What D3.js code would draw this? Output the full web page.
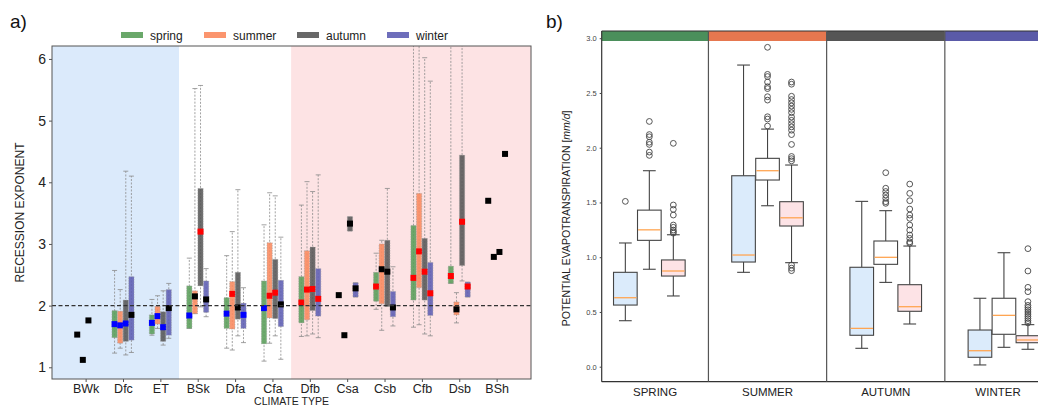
<!DOCTYPE html>
<html>
<head>
<meta charset="utf-8">
<script src="https://cdn.jsdelivr.net/npm/d3@7"></script>
<style>
  body { margin: 0; background: #fff; }
  svg { font-family: "Liberation Sans", Arial, sans-serif; }
</style>
</head>
<body>
<svg id="chart" width="1038" height="407"></svg>
<script>
// ---- panel a data: recession exponent per climate type and season ----
const climateTypes = ["BWk", "Dfc", "ET", "BSk", "Dfa", "Cfa", "Dfb", "Csa", "Csb", "Cfb", "Dsb", "BSh"];
const seasons = ["spring", "summer", "autumn", "winter"];
const yTicksA = [1, 2, 3, 4, 5, 6];
// each row: [whiskerLow, q1, q3, whiskerHigh, marker, markerColour]  (null = single value only)
const springRec = [
  [null, null, null, null, 1.53, "k"],
  [1.23, 1.48, 1.92, 2.57, 1.70, "b"],
  [1.52, 1.54, 1.85, 2.10, 1.72, "b"],
  [1.63, 1.63, 2.32, 2.77, 1.84, "b"],
  [1.31, 1.63, 2.13, 2.81, 1.87, "b"],
  [1.10, 1.38, 2.40, 3.31, 1.96, "b"],
  [1.50, 1.72, 2.47, 3.63, 2.05, "r"],
  [null, null, null, null, 2.17, "k"],
  [1.94, 2.07, 2.54, 2.85, 2.31, "r"],
  [1.65, 2.09, 3.30, 8.00, 2.45, "r"],
  [2.36, 2.36, 2.64, 8.00, 2.48, "r"],
  [null, null, null, null, 3.70, "k"]
];
const summerRec = [
  [null, null, null, null, 1.12, "k"],
  [1.31, 1.39, 1.91, 2.26, 1.68, "b"],
  [1.63, 1.70, 1.99, 2.16, 1.83, "b"],
  [1.87, 1.87, 2.24, 5.52, 2.15, "k"],
  [1.28, 1.62, 2.39, 3.20, 2.19, "r"],
  [1.39, 1.80, 3.02, 3.83, 2.16, "r"],
  [1.51, 1.77, 2.89, 4.01, 2.26, "r"],
  [null, null, null, null, 1.52, "k"],
  [1.60, 2.03, 3.00, 3.06, 2.59, "k"],
  [1.69, 2.29, 3.82, 8.00, 2.88, "r"],
  [1.72, 1.85, 2.06, 2.21, 1.94, "k"],
  [null, null, null, null, 2.79, "k"]
];
const autumnRec = [
  [null, null, null, null, 1.76, "k"],
  [1.20, 1.42, 2.09, 4.18, 1.71, "b"],
  [1.36, 1.42, 1.90, 2.24, 1.65, "b"],
  [1.98, 2.32, 3.90, 5.57, 3.20, "r"],
  [1.51, 1.78, 2.54, 3.88, 1.97, "k"],
  [1.51, 1.79, 2.75, 3.78, 2.21, "r"],
  [1.54, 1.92, 2.95, 3.85, 2.27, "r"],
  [3.21, 3.21, 3.44, 3.44, 3.33, "k"],
  [1.99, 1.99, 3.06, 3.90, 2.55, "k"],
  [1.54, 2.09, 3.09, 6.02, 2.55, "r"],
  [2.40, 2.65, 4.44, 8.00, 3.36, "r"],
  [null, null, null, null, 2.87, "k"]
];
const winterRec = [
  null,
  [1.24, 1.44, 2.47, 4.10, 1.85, "k"],
  [1.47, 1.52, 2.26, 2.36, 1.96, "k"],
  [1.82, 1.89, 2.40, 2.60, 2.10, "k"],
  [1.40, 1.63, 2.04, 2.29, 1.85, "b"],
  [1.13, 1.66, 2.41, 3.11, 2.02, "k"],
  [1.48, 1.83, 2.60, 4.12, 2.11, "r"],
  [2.14, 2.14, 2.37, 2.37, 2.28, "k"],
  [1.67, 1.82, 2.23, 2.63, 1.97, "k"],
  [1.51, 1.84, 2.70, 5.64, 2.20, "r"],
  [2.14, 2.14, 2.38, 2.38, 2.31, "r"],
  [null, null, null, null, 4.46, "k"]
];
const referenceExponent = 2;

// ---- panel b data: potential evapotranspiration per season and climate zone ----
const petSeasons = ["SPRING", "SUMMER", "AUTUMN", "WINTER"];
const petZones = ["cold", "mid", "warm"];
const yTicksB = [0.0, 0.5, 1.0, 1.5, 2.0, 2.5, 3.0];
// each: [whiskerLow, q1, median, q3, whiskerHigh]
const petCold = [
  [0.42, 0.563, 0.63, 0.862, 1.13],
  [0.862, 0.956, 1.02, 1.744, 2.755],
  [0.168, 0.287, 0.35, 0.908, 1.51],
  [0.016, 0.086, 0.146, 0.335, 0.625]
];
const petMid = [
  [0.89, 1.154, 1.25, 1.43, 1.79],
  [1.47, 1.705, 1.79, 1.903, 2.17],
  [0.77, 0.935, 0.999, 1.148, 1.425],
  [0.177, 0.296, 0.469, 0.625, 1.041]
];
const petWarm = [
  [0.646, 0.828, 0.874, 0.975, 1.205],
  [0.95, 1.285, 1.36, 1.507, 1.842],
  [0.39, 0.506, 0.548, 0.749, 1.102],
  [0.159, 0.219, 0.244, 0.283, 0.384]
];
const petColdOut = [[1.51], [], [], []];
const petMidOut = [
  [1.93, 1.96, 2.03, 2.05, 2.10, 2.12, 2.24],
  [2.198, 2.262, 2.283, 2.435, 2.466, 2.54, 2.557, 2.60, 2.65, 2.67, 2.917],
  [1.492, 1.507, 1.538, 1.568, 1.60, 1.63, 1.772],
  []
];
const petWarmOut = [
  [1.22, 1.233, 1.248, 1.273, 1.294, 1.385, 1.437, 1.477, 2.04],
  [0.877, 0.90, 0.929, 1.88, 1.90, 1.92, 2.03, 2.12, 2.16, 2.19, 2.22, 2.25, 2.28, 2.32, 2.35, 2.38, 2.41, 2.44, 2.47, 2.58, 2.60],
  [1.127, 1.14, 1.172, 1.203, 1.248, 1.294, 1.355, 1.385, 1.44, 1.516, 1.583, 1.668],
  [0.40, 0.42, 0.44, 0.46, 0.48, 0.50, 0.52, 0.54, 0.56, 0.594, 0.685, 0.725, 0.874, 1.078]
];

const seasonColor = { spring: "#5a9e5a", summer: "#fb8a5e", autumn: "#585858", winter: "#5e5eb4" };
const stripColor = ["#4b8f5b", "#e6774f", "#555555", "#5a5aa8"];
const zoneFill = { cold: "#dbebfb", mid: "#ffffff", warm: "#fde3e6" };
const markColor = { k: "#000000", b: "#0000ff", r: "#ff0000" };

const svg = d3.select("#chart");

// ================= panel a =================
const A = { left: 52, right: 531, top: 46, bottom: 379 };
const xA = d3.scaleLinear().domain([-0.9, 11.92]).range([A.left, A.right]);
const yA = d3.scaleLinear().domain([0.81, 6.21]).range([A.bottom, A.top]);

svg.append("defs").append("clipPath").attr("id", "clipA")
  .append("rect").attr("x", A.left).attr("y", A.top)
  .attr("width", A.right - A.left).attr("height", A.bottom - A.top);

const gA = svg.append("g");
const plotA = gA.append("g").attr("clip-path", "url(#clipA)");

// climate zone shading
plotA.append("rect")
  .attr("x", xA(-0.9)).attr("y", A.top)
  .attr("width", xA(2.5) - xA(-0.9)).attr("height", A.bottom - A.top)
  .attr("fill", "#dbeafb");
plotA.append("rect")
  .attr("x", xA(5.5)).attr("y", A.top)
  .attr("width", xA(11.92) - xA(5.5)).attr("height", A.bottom - A.top)
  .attr("fill", "#fde3e4");

const offsets = [-0.225, -0.075, 0.075, 0.225];
const boxW = 0.14;
const seasonRows = [springRec, summerRec, autumnRec, winterRec];

seasons.forEach((s, si) => {
  const rows = seasonRows[si];
  const g = plotA.append("g").attr("class", "season-" + s);
  rows.forEach((r, ci) => {
    if (!r) return;
    const cx = xA(ci + offsets[si]);
    if (r[0] !== null) {
      // whisker
      g.append("line")
        .attr("x1", cx).attr("x2", cx)
        .attr("y1", yA(r[0])).attr("y2", yA(r[3]))
        .attr("stroke", "#8a8a8a").attr("stroke-width", 0.8)
        .attr("stroke-dasharray", "2,1.5");
      [r[0], r[3]].forEach(v => {
        g.append("line")
          .attr("x1", cx - 2.5).attr("x2", cx + 2.5)
          .attr("y1", yA(v)).attr("y2", yA(v))
          .attr("stroke", "#8a8a8a").attr("stroke-width", 0.8);
      });
      // box
      const bw = xA(boxW) - xA(0);
      g.append("rect")
        .attr("x", cx - bw / 2).attr("width", bw)
        .attr("y", yA(r[2])).attr("height", Math.max(1, yA(r[1]) - yA(r[2])))
        .attr("fill", seasonColor[s]).attr("fill-opacity", 0.88)
        .attr("stroke", "#9a9a9a").attr("stroke-width", 0.5)
        .attr("stroke-dasharray", "1.5,1");
    }
    g.append("rect")
      .attr("x", cx - 3).attr("y", yA(r[4]) - 3)
      .attr("width", 6).attr("height", 6)
      .attr("fill", markColor[r[5]]);
  });
});

// reference line
plotA.append("line")
  .attr("x1", A.left).attr("x2", A.right)
  .attr("y1", yA(referenceExponent)).attr("y2", yA(referenceExponent))
  .attr("stroke", "#333").attr("stroke-width", 1.2)
  .attr("stroke-dasharray", "4,2.5");

// frame
gA.append("rect")
  .attr("x", A.left).attr("y", A.top)
  .attr("width", A.right - A.left).attr("height", A.bottom - A.top)
  .attr("fill", "none").attr("stroke", "#555").attr("stroke-width", 1);

// axes
const yAxisA = gA.append("g")
  .attr("transform", `translate(${A.left},0)`)
  .call(d3.axisLeft(yA).tickValues(yTicksA).tickFormat(d3.format("d")).tickSize(3).tickPadding(3));
yAxisA.select(".domain").remove();
yAxisA.selectAll("text").attr("font-size", 14).attr("fill", "#222");
yAxisA.selectAll("line").attr("stroke", "#555");

const xAxisA = gA.append("g")
  .attr("transform", `translate(0,${A.bottom})`)
  .call(d3.axisBottom(xA).tickValues(d3.range(climateTypes.length))
    .tickFormat(i => climateTypes[i]).tickSize(3).tickPadding(2));
xAxisA.select(".domain").remove();
xAxisA.selectAll("text").attr("font-size", 12.5).attr("fill", "#222");
xAxisA.selectAll("line").attr("stroke", "#555");

gA.append("text")
  .attr("transform", `translate(24,${(A.top + A.bottom) / 2}) rotate(-90)`)
  .attr("text-anchor", "middle").attr("font-size", 12).attr("fill", "#222")
  .text("RECESSION EXPONENT");
gA.append("text")
  .attr("x", (A.left + A.right) / 2).attr("y", 405)
  .attr("text-anchor", "middle").attr("font-size", 10.5).attr("fill", "#222")
  .text("CLIMATE TYPE");
gA.append("text")
  .attr("x", 10).attr("y", 28)
  .attr("font-size", 19).attr("fill", "#111")
  .text("a)");

// legend
const legendX = [121, 204, 297, 387];
const legend = gA.append("g");
seasons.forEach((s, i) => {
  legend.append("rect")
    .attr("x", legendX[i]).attr("y", 32)
    .attr("width", 22).attr("height", 6)
    .attr("fill", seasonColor[s]).attr("fill-opacity", 0.9);
  legend.append("text")
    .attr("x", legendX[i] + 29).attr("y", 39.5)
    .attr("font-size", 12).attr("fill", "#222")
    .text(s);
});

// ================= panel b =================
const B = { left: 601.7, top: 31, bottom: 381.7 };
const xB = d3.scaleLinear().domain([-0.403, 3.5]).range([B.left, B.left + 3.903 * 118.2]);
const yB = d3.scaleLinear().domain([-0.137, 3.066]).range([B.bottom, B.top]);
const gB = svg.append("g");

const zoneOffset = [-0.203, 0, 0.203];
const zoneW = 0.2;
const zoneStats = [petCold, petMid, petWarm];
const zoneOut = [petColdOut, petMidOut, petWarmOut];
const sectionEdges = [-0.403, 0.5, 1.5, 2.5, 3.5];

// coloured season strips
petSeasons.forEach((s, k) => {
  gB.append("rect")
    .attr("x", xB(sectionEdges[k])).attr("y", B.top)
    .attr("width", xB(sectionEdges[k + 1]) - xB(sectionEdges[k])).attr("height", 10)
    .attr("fill", stripColor[k]);
});

petSeasons.forEach((s, k) => {
  petZones.forEach((z, zi) => {
    const st = zoneStats[zi][k];
    const cx = xB(k + zoneOffset[zi]);
    const bw = xB(zoneW) - xB(0);
    const g = gB.append("g");
    g.append("line").attr("x1", cx).attr("x2", cx)
      .attr("y1", yB(st[0])).attr("y2", yB(st[1]))
      .attr("stroke", "#444").attr("stroke-width", 1.1);
    g.append("line").attr("x1", cx).attr("x2", cx)
      .attr("y1", yB(st[3])).attr("y2", yB(st[4]))
      .attr("stroke", "#444").attr("stroke-width", 1.1);
    [st[0], st[4]].forEach(v => {
      g.append("line").attr("x1", cx - bw * 0.27).attr("x2", cx + bw * 0.27)
        .attr("y1", yB(v)).attr("y2", yB(v))
        .attr("stroke", "#444").attr("stroke-width", 1.1);
    });
    g.append("rect")
      .attr("x", cx - bw / 2).attr("width", bw)
      .attr("y", yB(st[3])).attr("height", yB(st[1]) - yB(st[3]))
      .attr("fill", zoneFill[z]).attr("stroke", "#444").attr("stroke-width", 1.1);
    g.append("line").attr("x1", cx - bw / 2 + 0.6).attr("x2", cx + bw / 2 - 0.6)
      .attr("y1", yB(st[2])).attr("y2", yB(st[2]))
      .attr("stroke", "#ffa552").attr("stroke-width", 1.3);
    g.selectAll("circle").data(zoneOut[zi][k]).enter().append("circle")
      .attr("cx", cx).attr("cy", d => yB(d)).attr("r", 2.9)
      .attr("fill", "none").attr("stroke", "#444").attr("stroke-width", 0.9);
  });
});

// frame and dividers
gB.append("line").attr("x1", B.left).attr("x2", 1038).attr("y1", B.top).attr("y2", B.top)
  .attr("stroke", "#333").attr("stroke-width", 1.2);
gB.append("line").attr("x1", B.left).attr("x2", 1038).attr("y1", B.bottom).attr("y2", B.bottom)
  .attr("stroke", "#333").attr("stroke-width", 1.2);
gB.append("line").attr("x1", B.left).attr("x2", B.left).attr("y1", B.top).attr("y2", B.bottom)
  .attr("stroke", "#333").attr("stroke-width", 1.2);
[0.5, 1.5, 2.5].forEach(v => {
  gB.append("line").attr("x1", xB(v)).attr("x2", xB(v)).attr("y1", B.top).attr("y2", B.bottom)
    .attr("stroke", "#555").attr("stroke-width", 1.2);
});

const yAxisB = gB.append("g")
  .attr("transform", `translate(${B.left},0)`)
  .call(d3.axisLeft(yB).tickValues(yTicksB).tickFormat(d3.format(".1f")).tickSize(2).tickPadding(3));
yAxisB.select(".domain").remove();
yAxisB.selectAll("text").attr("font-size", 7.5).attr("fill", "#444");
yAxisB.selectAll("line").attr("stroke", "#444");

// season labels centred in each visible section
petSeasons.forEach((s, k) => {
  const lo = Math.max(sectionEdges[k], xB.invert(B.left));
  const hi = Math.min(sectionEdges[k + 1], 3.4);
  gB.append("text")
    .attr("x", xB((lo + hi) / 2)).attr("y", 396)
    .attr("text-anchor", "middle").attr("font-size", 11.5).attr("fill", "#222")
    .text(s);
});

const yLabB = gB.append("text")
  .attr("transform", `translate(570,${(B.top + B.bottom) / 2 + 12}) rotate(-90)`)
  .attr("text-anchor", "middle").attr("font-size", 10.5).attr("fill", "#222");
yLabB.append("tspan").text("POTENTIAL EVAPOTRANSPIRATION [");
yLabB.append("tspan").attr("font-style", "italic").text("mm/d");
yLabB.append("tspan").text("]");

gB.append("text")
  .attr("x", 546).attr("y", 28)
  .attr("font-size", 19).attr("fill", "#111")
  .text("b)");
</script>
</body>
</html>
